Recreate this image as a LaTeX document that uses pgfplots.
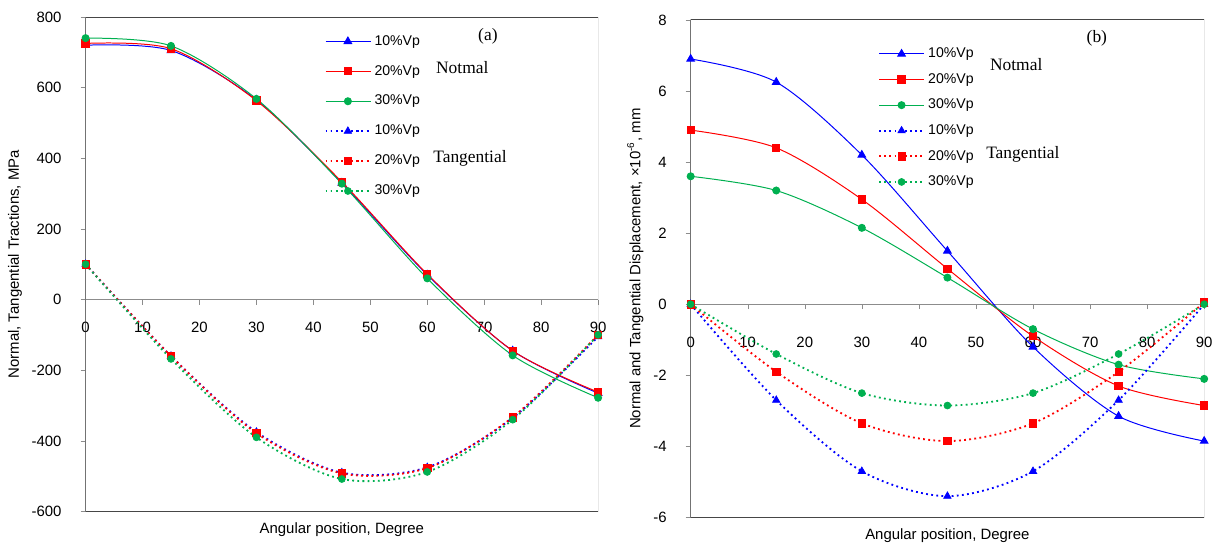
\documentclass[border=0pt]{standalone}
\usepackage{fontspec}
\setmainfont{Liberation Sans}
\newfontfamily\tnr{Liberation Serif}
\usepackage{pgfplots}
\pgfplotsset{compat=1.18}

\definecolor{cB}{RGB}{0,0,255}
\definecolor{cR}{RGB}{255,0,0}
\definecolor{cG}{RGB}{0,176,80}
\definecolor{frm}{RGB}{70,70,70}
\definecolor{axl}{RGB}{140,140,140}

\pgfplotsset{
  panel/.style={
    scale only axis,
    axis x line=middle, axis y line=left,
    axis line style={-, draw=axl},
    xmin=0, xmax=90, xtick={0,10,...,90},
    hide obscured x ticks=false,
    tick align=outside, major tick length=3pt,
    tick style={axl},
    /pgf/number format/assume math mode=true,
    font=\fontsize{9}{11}\selectfont,
    xticklabel style={anchor=north, yshift=-7pt},
    yticklabel style={anchor=east, xshift=-8pt},
    xlabel style={at={(rel axis cs:0.5,0)}, anchor=north, yshift=-3pt},
    ylabel style={yshift=-1pt},
    legend style={draw=none, fill=none, row sep=6.6pt,
      font=\fontsize{8.5}{10}\selectfont, anchor=north west},
    legend cell align=left,
    legend image code/.code={
      \draw[mark repeat=2, mark phase=2, #1]
        plot coordinates {(0pt,0pt) (13.5pt,0pt) (27pt,0pt)};},
  },
  nB/.style={cB, solid, line width=0.6pt, smooth, mark=triangle*, mark size=2.6pt, mark options={solid}},
  nR/.style={cR, solid, line width=0.6pt, smooth, mark=square*, mark size=2.2pt, mark options={solid}},
  nG/.style={cG, solid, line width=0.6pt, smooth, mark=*, mark size=2.1pt, mark options={solid}},
  tB/.style={cB, dotted, line width=1.1pt, smooth, mark=triangle*, mark size=2.6pt, mark options={solid, line width=0.4pt}},
  tR/.style={cR, dotted, line width=1.1pt, smooth, mark=square*, mark size=2.2pt, mark options={solid, line width=0.4pt}},
  tG/.style={cG, dotted, line width=1.1pt, smooth, mark=*, mark size=2.1pt, mark options={solid, line width=0.4pt}},
}

\begin{document}
\begin{tikzpicture}
% (a) tractions
\begin{axis}[panel,
  width=309pt, height=298.2pt,
  ymin=-600, ymax=800, ytick={-600,-400,...,800},
  xlabel={Angular position, Degree},
  ylabel={Normal, Tangential Tractions, MPa},
  legend style={at={(rel axis cs:0.456,0.977)}},
]
\draw[frm, line width=0.5pt] (rel axis cs:0,0) rectangle (rel axis cs:1,1);
\addplot[nB] coordinates {(0,720) (15,705) (30,565) (45,330) (60,70) (75,-145) (90,-265)};
\addplot[nR] coordinates {(0,725) (15,710) (30,563) (45,333) (60,72) (75,-145) (90,-262)};
\addplot[nG] coordinates {(0,740) (15,718) (30,568) (45,328) (60,60) (75,-158) (90,-278)};
\addplot[tB] coordinates {(0,100) (15,-160) (30,-375) (45,-490) (60,-475) (75,-335) (90,-105)};
\addplot[tR] coordinates {(0,100) (15,-160) (30,-378) (45,-492) (60,-477) (75,-333) (90,-100)};
\addplot[tG] coordinates {(0,100) (15,-168) (30,-390) (45,-508) (60,-488) (75,-340) (90,-100)};
\legend{10\%Vp, 20\%Vp, 30\%Vp, 10\%Vp, 20\%Vp, 30\%Vp}
\node[font=\tnr\fontsize{10.5}{12}\selectfont] at (rel axis cs:0.735,0.897) {Notmal};
\node[font=\tnr\fontsize{10.5}{12}\selectfont] at (rel axis cs:0.750,0.714) {Tangential};
\node[font=\tnr\fontsize{10.5}{12}\selectfont] at (rel axis cs:0.785,0.960) {(a)};
\end{axis}

% (b) displacements
\begin{axis}[panel, at={(364.8pt,-3.6pt)},
  width=309.6pt, height=300pt,
  ymin=-6, ymax=8, ytick={-6,-4,...,8},
  xlabel={Angular position, Degree},
  ylabel={Normal and Tangential Displacement, ×10\textsuperscript{-6}, mm},
  xticklabel style={yshift=-6pt},
  legend style={at={(rel axis cs:0.355,0.958)}, row sep=4pt},
]
\draw[frm, line width=0.5pt] (rel axis cs:0,0) rectangle (rel axis cs:1,1);
\addplot[nB] coordinates {(0,6.9) (15,6.25) (30,4.2) (45,1.5) (60,-1.2) (75,-3.15) (90,-3.85)};
\addplot[nR] coordinates {(0,4.9) (15,4.4) (30,2.95) (45,1.0) (60,-0.9) (75,-2.3) (90,-2.85)};
\addplot[nG] coordinates {(0,3.6) (15,3.2) (30,2.15) (45,0.75) (60,-0.7) (75,-1.7) (90,-2.1)};
\addplot[tB] coordinates {(0,0) (15,-2.7) (30,-4.7) (45,-5.4) (60,-4.7) (75,-2.7) (90,0)};
\addplot[tR] coordinates {(0,0) (15,-1.9) (30,-3.35) (45,-3.85) (60,-3.35) (75,-1.9) (90,0.05)};
\addplot[tG] coordinates {(0,0) (15,-1.4) (30,-2.5) (45,-2.85) (60,-2.5) (75,-1.4) (90,0)};
\legend{10\%Vp, 20\%Vp, 30\%Vp, 10\%Vp, 20\%Vp, 30\%Vp}
\node[font=\tnr\fontsize{10.5}{12}\selectfont] at (rel axis cs:0.634,0.910) {Notmal};
\node[font=\tnr\fontsize{10.5}{12}\selectfont] at (rel axis cs:0.647,0.730) {Tangential};
\node[font=\tnr\fontsize{10.5}{12}\selectfont] at (rel axis cs:0.791,0.964) {(b)};
\end{axis}
\path (-51.6pt,-16.8pt) rectangle (679.2pt,308.4pt);
\end{tikzpicture}
\end{document}
